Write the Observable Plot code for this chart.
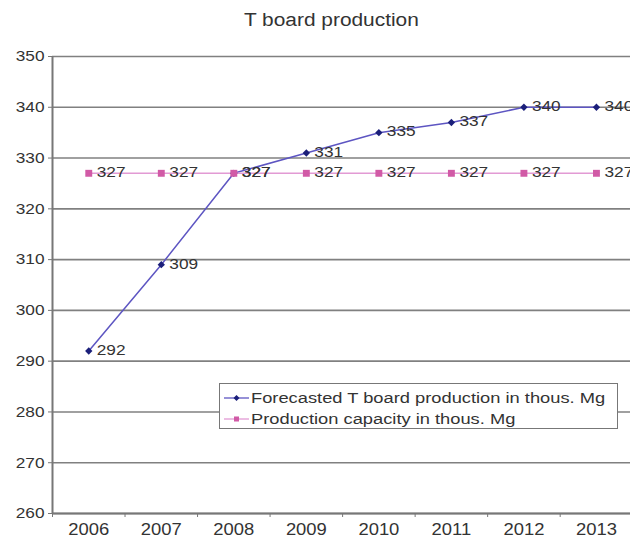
<!DOCTYPE html>
<html>
<head>
<meta charset="utf-8">
<script src="https://cdn.jsdelivr.net/npm/d3@7"></script>
<script src="https://cdn.jsdelivr.net/npm/@observablehq/plot@0.6"></script>
<style>
  html, body { margin: 0; padding: 0; background: #fff; overflow: hidden; }
  #wrap { position: relative; width: 630px; height: 538px; overflow: hidden;
          font-family: "Liberation Sans", Arial, sans-serif; color: #333; }
  #title { position: absolute; left: 16px; top: 11px; width: 630px; text-align: center;
           font-size: 18px; line-height: 18px; }
  #title span { display: inline-block; transform: scaleX(1.16); transform-origin: center; }
  #chart { position: absolute; left: 0; top: 40px; }
  #legend { position: absolute; left: 219px; top: 383px; width: 397px; height: 44px;
            background: #fff; border: 1.5px solid #777; }
  .row { position: absolute; left: 0; height: 20px; white-space: nowrap; }
  .row svg { position: absolute; left: 4px; top: 0; }
  .row span { position: absolute; left: 31px; top: 1px; font-size: 15.5px; line-height: 18px;
              display: inline-block; transform: scaleX(1.18); transform-origin: left center; }
</style>
</head>
<body>
<div id="wrap">
  <div id="title"><span>T board production</span></div>
  <div id="chart"></div>
  <div id="legend"></div>
</div>
<script>
// Yearly values, thousand Mg
const years = [2006, 2007, 2008, 2009, 2010, 2011, 2012, 2013];
const forecast = [292, 309, 327, 331, 335, 337, 340, 340];
const capacity = [327, 327, 327, 327, 327, 327, 327, 327];
const yTicks = [260, 270, 280, 290, 300, 310, 320, 330, 340, 350];
const seriesNames = ["Forecasted T board production in thous. Mg", "Production capacity in thous. Mg"];

const forecastColor = "#5d55c2", forecastMarker = "#1b1f7a";
const capacityColor = "#e29ad4", capacityMarker = "#d15aa6";

const forecastData = years.map((year, i) => ({year, value: forecast[i]}));
const capacityData = years.map((year, i) => ({year, value: capacity[i]}));
// category boundaries sit halfway between years
const edges = [years[0] - 0.5, ...years.map(y => y + 0.5)];

const chart = Plot.plot({
  width: 630,
  height: 498,
  marginLeft: 52,
  marginRight: 0,
  marginTop: 16,
  marginBottom: 25,
  style: {fontFamily: "Liberation Sans, Arial, sans-serif", fontSize: "15px", color: "#333", background: "transparent"},
  x: {domain: [edges[0], edges[edges.length - 1]], range: [52, 632.2]},
  y: {domain: [260, 350]},
  marks: [
    Plot.gridY(yTicks, {stroke: "#808080", strokeOpacity: 1, strokeWidth: 1.6}),
    Plot.ruleX([edges[0]], {stroke: "#777", strokeWidth: 2}),
    Plot.ruleY([260], {stroke: "#777", strokeWidth: 2}),
    Plot.axisY(yTicks, {label: null, tickSize: 4, tickPadding: 4, stroke: "#777", fill: "#333", fontSize: 15, tickFormat: d => String(d)}),
    Plot.axisX(edges, {label: null, tickSize: 4, stroke: "#777", tickFormat: () => ""}),
    Plot.axisX(years, {label: null, tickSize: 0, tickPadding: 10, fill: "#333", fontSize: 16, tickFormat: d => String(d)}),
    Plot.line(forecastData, {x: "year", y: "value", stroke: forecastColor, strokeWidth: 1.5}),
    Plot.line(capacityData, {x: "year", y: "value", stroke: capacityColor, strokeWidth: 1.5}),
    Plot.dot(forecastData, {x: "year", y: "value", symbol: "diamond2", r: 3.3, fill: forecastMarker, stroke: "none"}),
    Plot.dot(capacityData, {x: "year", y: "value", symbol: "square", r: 3.9, fill: capacityMarker, stroke: "none"}),
    Plot.text(forecastData, {x: "year", y: "value", text: d => String(d.value), textAnchor: "start", dx: 8, dy: -1, fill: "#333", fontSize: 15}),
    Plot.text(capacityData, {x: "year", y: "value", text: d => String(d.value), textAnchor: "start", dx: 8, dy: -1, fill: "#333", fontSize: 15})
  ]
});
document.getElementById("chart").appendChild(chart);

// widen the glyphs a little, as in the original export
chart.querySelectorAll("text").forEach(t => {
  if (!t.textContent) return;
  const w = t.getComputedTextLength();
  t.setAttribute("textLength", (w * 1.15).toFixed(2));
  t.setAttribute("lengthAdjust", "spacingAndGlyphs");
});

// legend entries
const legend = document.getElementById("legend");
const entries = [
  {name: seriesNames[0], line: forecastColor, marker: forecastMarker, shape: "diamond"},
  {name: seriesNames[1], line: capacityColor, marker: capacityMarker, shape: "square"}
];
entries.forEach((e, i) => {
  const row = document.createElement("div");
  row.className = "row";
  row.style.top = (4 + i * 20.5) + "px";
  const svg = d3.create("svg").attr("width", 26).attr("height", 20);
  svg.append("line").attr("x1", 0).attr("x2", 25).attr("y1", 10).attr("y2", 10)
    .attr("stroke", e.line).attr("stroke-width", 1.3);
  if (e.shape === "diamond") {
    svg.append("path").attr("d", "M12.5,7 L15.5,10 L12.5,13 L9.5,10 Z").attr("fill", e.marker);
  } else {
    svg.append("rect").attr("x", 10).attr("y", 7.5).attr("width", 5).attr("height", 5).attr("fill", e.marker);
  }
  row.appendChild(svg.node());
  const label = document.createElement("span");
  label.textContent = e.name;
  row.appendChild(label);
  legend.appendChild(row);
});
</script>
</body>
</html>
